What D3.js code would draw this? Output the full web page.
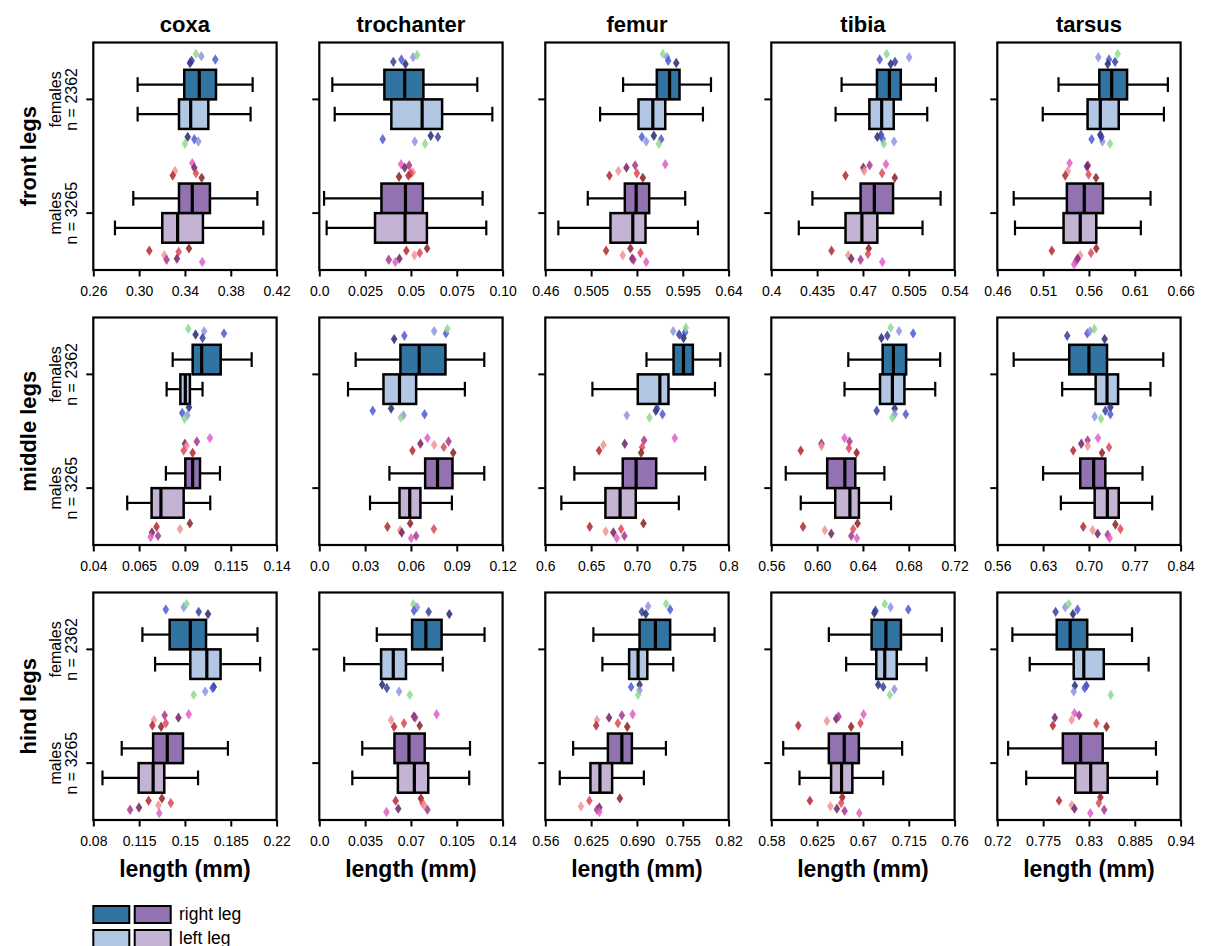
<!DOCTYPE html>
<html>
<head>
<meta charset="utf-8">
<script src="https://cdn.jsdelivr.net/npm/d3@7"></script>
<style>
  body { margin: 0; background: #fff; }
  svg text { font-family: Arial, "Liberation Sans", Helvetica, sans-serif; fill: #000; }
</style>
</head>
<body>
<svg id="chart" width="1205" height="946"></svg>
<script>
// ---- categories ----
const parts = ["coxa", "trochanter", "femur", "tibia", "tarsus"];
const legPairs = ["front legs", "middle legs", "hind legs"];
const sexes = ["females", "males"];
const sexLabels = [["females", "n = 2362"], ["males", "n = 3265"]];
const sides = ["right leg", "left leg"];

// ---- x tick labels per panel (first/last give the axis range) ----
const ticksFront = [
  ["0.26", "0.30", "0.34", "0.38", "0.42"],
  ["0.0", "0.025", "0.05", "0.075", "0.10"],
  ["0.46", "0.505", "0.55", "0.595", "0.64"],
  ["0.4", "0.435", "0.47", "0.505", "0.54"],
  ["0.46", "0.51", "0.56", "0.61", "0.66"]
];
const ticksMiddle = [
  ["0.04", "0.065", "0.09", "0.115", "0.14"],
  ["0.0", "0.03", "0.06", "0.09", "0.12"],
  ["0.6", "0.65", "0.70", "0.75", "0.8"],
  ["0.56", "0.60", "0.64", "0.68", "0.72"],
  ["0.56", "0.63", "0.70", "0.77", "0.84"]
];
const ticksHind = [
  ["0.08", "0.115", "0.15", "0.185", "0.22"],
  ["0.0", "0.035", "0.07", "0.105", "0.14"],
  ["0.56", "0.625", "0.690", "0.755", "0.82"],
  ["0.58", "0.625", "0.67", "0.715", "0.76"],
  ["0.72", "0.775", "0.83", "0.885", "0.94"]
];

// ---- box statistics [whisker low, q1, median, q3, whisker high] (mm) ----
// order per segment: females right, females left, males right, males left
const boxFront = [
  [[0.2987, 0.3394, 0.3525, 0.3671, 0.3991], [0.2987, 0.3348, 0.3450, 0.3604, 0.3973], [0.2949, 0.3348, 0.3464, 0.3618, 0.4032], [0.2789, 0.3202, 0.3336, 0.3557, 0.4084]],
  [[0.0071, 0.0355, 0.0466, 0.0568, 0.0862], [0.0084, 0.0393, 0.0561, 0.0670, 0.0944], [0.0026, 0.0339, 0.0470, 0.0565, 0.0891], [0.0040, 0.0304, 0.0468, 0.0587, 0.0911]],
  [[0.5364, 0.5695, 0.5820, 0.5918, 0.6227], [0.5138, 0.5515, 0.5656, 0.5778, 0.6148], [0.5017, 0.5381, 0.5492, 0.5620, 0.5974], [0.4728, 0.5240, 0.5459, 0.5584, 0.6099]],
  [[0.4537, 0.4807, 0.4902, 0.4989, 0.5257], [0.4491, 0.4749, 0.4843, 0.4935, 0.5191], [0.4314, 0.4682, 0.4787, 0.4930, 0.5293], [0.4210, 0.4567, 0.4692, 0.4810, 0.5155]],
  [[0.5268, 0.5713, 0.5848, 0.6016, 0.6461], [0.5096, 0.5585, 0.5724, 0.5925, 0.6418], [0.4779, 0.5359, 0.5549, 0.5753, 0.6272], [0.4793, 0.5323, 0.5505, 0.5680, 0.6166]]
];
const boxMiddle = [
  [[0.0833, 0.0942, 0.0991, 0.1095, 0.1264], [0.0800, 0.0875, 0.0902, 0.0927, 0.0996], [0.0796, 0.0902, 0.0942, 0.0982, 0.1091], [0.0585, 0.0718, 0.0769, 0.0893, 0.1038]],
  [[0.0238, 0.0531, 0.0654, 0.0826, 0.1080], [0.0188, 0.0420, 0.0525, 0.0634, 0.0953], [0.0459, 0.0693, 0.0774, 0.0872, 0.1080], [0.0332, 0.0525, 0.0592, 0.0662, 0.0868]],
  [[0.7104, 0.7399, 0.7508, 0.7610, 0.7909], [0.6514, 0.7009, 0.7250, 0.7344, 0.7851], [0.6317, 0.6845, 0.6991, 0.7210, 0.7745], [0.6175, 0.6656, 0.6816, 0.6987, 0.7457]],
  [[0.6272, 0.6572, 0.6666, 0.6777, 0.7074], [0.6239, 0.6549, 0.6657, 0.6762, 0.7031], [0.5726, 0.6088, 0.6242, 0.6333, 0.6587], [0.5857, 0.6158, 0.6286, 0.6365, 0.6645]],
  [[0.5850, 0.6699, 0.7000, 0.7276, 0.8135], [0.6591, 0.7102, 0.7276, 0.7445, 0.7940], [0.6300, 0.6867, 0.7072, 0.7250, 0.7818], [0.6571, 0.7087, 0.7281, 0.7455, 0.7966]]
];
const boxHind = [
  [[0.1175, 0.1383, 0.1541, 0.1661, 0.2054], [0.1272, 0.1541, 0.1667, 0.1772, 0.2074], [0.1017, 0.1257, 0.1365, 0.1485, 0.1828], [0.0870, 0.1146, 0.1257, 0.1342, 0.1600]],
  [[0.0439, 0.0709, 0.0814, 0.0934, 0.1262], [0.0190, 0.0472, 0.0565, 0.0662, 0.0943], [0.0328, 0.0574, 0.0685, 0.0805, 0.1151], [0.0252, 0.0600, 0.0726, 0.0832, 0.1145]],
  [[0.6282, 0.6937, 0.7162, 0.7371, 0.8001], [0.6410, 0.6789, 0.6916, 0.7047, 0.7415], [0.5995, 0.6488, 0.6686, 0.6828, 0.7311], [0.5805, 0.6240, 0.6375, 0.6548, 0.6998]],
  [[0.6365, 0.6785, 0.6926, 0.7073, 0.7475], [0.6535, 0.6831, 0.6914, 0.7032, 0.7324], [0.5917, 0.6365, 0.6516, 0.6660, 0.7085], [0.6077, 0.6387, 0.6490, 0.6596, 0.6899]],
  [[0.7381, 0.7913, 0.8075, 0.8279, 0.8817], [0.7589, 0.8117, 0.8238, 0.8478, 0.9016], [0.7330, 0.7987, 0.8200, 0.8465, 0.9104], [0.7547, 0.8136, 0.8321, 0.8525, 0.9118]]
];

// ---- individual specimens shown as points ----
const specimens = ["g", "l", "b", "d", "n", "s", "r", "dr", "br", "pl", "mg", "pk"];
const specimenColors = ["#8fd98f", "#8e93e4", "#4d57d2", "#363d9e", "#25296e",
                        "#f09393", "#dd4856", "#b3262f", "#8c1f24", "#702262", "#a7358e", "#e05dc6"];

// points per segment: [females, males]; each point [length, specimen, jitter (band units from the group centre)]
const stripFront = [
  [[[0.3496, "g", -0.40], [0.3543, "l", -0.38], [0.3665, "b", -0.35], [0.3444, "n", -0.32], [0.3458, "d", -0.34], [0.3424, "n", 0.33], [0.3482, "b", 0.35], [0.3517, "l", 0.37], [0.3400, "g", 0.39]],
   [[0.3464, "pk", -0.44], [0.3482, "pl", -0.40], [0.3496, "r", -0.35], [0.3546, "br", -0.31], [0.3313, "s", -0.37], [0.3293, "dr", -0.33], [0.3089, "dr", 0.33], [0.3220, "s", 0.37], [0.3240, "mg", 0.41], [0.3345, "r", 0.34], [0.3330, "pl", 0.40], [0.3435, "br", 0.31], [0.3551, "pk", 0.43]]],
  [[[0.0404, "d", -0.33], [0.0448, "b", -0.35], [0.0470, "n", -0.31], [0.0512, "l", -0.37], [0.0534, "g", -0.39], [0.0346, "b", 0.35], [0.0521, "l", 0.37], [0.0577, "g", 0.39], [0.0608, "n", 0.32], [0.0647, "d", 0.33]],
   [[0.0446, "pk", -0.43], [0.0466, "pl", -0.40], [0.0490, "mg", -0.42], [0.0510, "s", -0.36], [0.0499, "r", -0.35], [0.0435, "br", -0.32], [0.0486, "dr", -0.33], [0.0475, "dr", 0.33], [0.0588, "br", 0.31], [0.0519, "s", 0.37], [0.0548, "r", 0.35], [0.0379, "mg", 0.41], [0.0437, "pl", 0.40], [0.0415, "pk", 0.43]]],
  [[[0.5755, "g", -0.40], [0.5797, "l", -0.37], [0.5807, "b", -0.34], [0.5886, "n", -0.32], [0.5548, "b", 0.33], [0.5591, "l", 0.37], [0.5666, "n", 0.32], [0.5738, "b", 0.35], [0.5715, "g", 0.39]],
   [[0.5778, "pk", -0.43], [0.5482, "mg", -0.42], [0.5397, "pl", -0.40], [0.5318, "s", -0.37], [0.5499, "r", -0.35], [0.5230, "dr", -0.33], [0.5558, "br", -0.31], [0.5197, "dr", 0.33], [0.5436, "br", 0.31], [0.5535, "r", 0.35], [0.5361, "s", 0.37], [0.5453, "pl", 0.40], [0.5466, "mg", 0.41], [0.5591, "pk", 0.43]]],
  [[[0.4828, "b", -0.35], [0.4881, "g", -0.40], [0.5053, "l", -0.37], [0.4912, "n", -0.31], [0.4945, "d", -0.33], [0.4810, "n", 0.33], [0.4838, "d", 0.31], [0.4851, "b", 0.35], [0.4859, "g", 0.39], [0.4938, "l", 0.37]],
   [[0.4876, "pk", -0.43], [0.4751, "mg", -0.42], [0.4703, "pl", -0.40], [0.4710, "s", -0.37], [0.4846, "r", -0.35], [0.4567, "dr", -0.33], [0.4943, "br", -0.31], [0.4460, "dr", 0.33], [0.4744, "br", 0.31], [0.4738, "r", 0.36], [0.4588, "s", 0.37], [0.4611, "pl", 0.40], [0.4682, "mg", 0.41], [0.4848, "pk", 0.43]]],
  [[[0.5702, "l", -0.37], [0.5914, "g", -0.40], [0.5819, "b", -0.35], [0.5805, "n", -0.31], [0.5885, "d", -0.33], [0.5724, "n", 0.31], [0.5629, "b", 0.35], [0.5746, "l", 0.37], [0.5830, "g", 0.39], [0.5735, "d", 0.33]],
   [[0.5389, "pk", -0.44], [0.5589, "mg", -0.42], [0.5578, "pl", -0.41], [0.5370, "s", -0.37], [0.5341, "dr", -0.33], [0.5596, "r", -0.34], [0.5677, "br", -0.31], [0.5195, "dr", 0.33], [0.5680, "br", 0.31], [0.5622, "r", 0.35], [0.5505, "s", 0.37], [0.5476, "pl", 0.40], [0.5461, "mg", 0.42], [0.5439, "pk", 0.45]]]
];
const stripMiddle = [
  [[[0.0918, "g", -0.40], [0.0958, "n", -0.35], [0.1005, "l", -0.38], [0.0996, "d", -0.32], [0.1113, "b", -0.36], [0.0922, "n", 0.29], [0.0885, "b", 0.34], [0.0913, "l", 0.36], [0.0898, "g", 0.39]],
   [[0.1036, "pk", -0.44], [0.0965, "mg", -0.41], [0.0900, "pl", -0.39], [0.0909, "s", -0.37], [0.0893, "r", -0.33], [0.0942, "dr", -0.31], [0.0745, "dr", 0.34], [0.0927, "br", 0.31], [0.0873, "s", 0.36], [0.0720, "pl", 0.39], [0.0753, "mg", 0.42], [0.0713, "pk", 0.43]]],
  [[[0.0490, "n", -0.31], [0.0557, "b", -0.34], [0.0752, "l", -0.38], [0.0829, "b", -0.36], [0.0839, "g", -0.40], [0.0350, "b", 0.32], [0.0470, "n", 0.30], [0.0551, "l", 0.36], [0.0533, "g", 0.38], [0.0689, "b", 0.35]],
   [[0.0708, "pk", -0.44], [0.0662, "pl", -0.39], [0.0752, "s", -0.38], [0.0846, "mg", -0.41], [0.0815, "r", -0.36], [0.0610, "dr", -0.33], [0.0877, "br", -0.31], [0.0446, "dr", 0.34], [0.0595, "br", 0.31], [0.0750, "r", 0.36], [0.0529, "s", 0.37], [0.0540, "pl", 0.39], [0.0634, "mg", 0.42], [0.0601, "pk", 0.44]]],
  [[[0.7395, "l", -0.38], [0.7461, "d", -0.35], [0.7526, "b", -0.37], [0.7508, "n", -0.32], [0.7534, "g", -0.41], [0.6889, "l", 0.36], [0.7206, "n", 0.32], [0.7220, "d", 0.30], [0.7279, "b", 0.35], [0.7137, "g", 0.38]],
   [[0.7413, "pk", -0.44], [0.7078, "mg", -0.42], [0.6867, "pl", -0.39], [0.6634, "s", -0.38], [0.7056, "r", -0.36], [0.6587, "dr", -0.33], [0.7046, "br", -0.31], [0.6485, "dr", 0.34], [0.7071, "br", 0.31], [0.6827, "r", 0.36], [0.6659, "s", 0.38], [0.6743, "pl", 0.39], [0.6863, "mg", 0.42], [0.6780, "pk", 0.44]]],
  [[[0.6642, "g", -0.41], [0.6715, "l", -0.38], [0.6838, "b", -0.36], [0.6561, "n", -0.32], [0.6613, "d", -0.34], [0.6520, "d", 0.32], [0.6677, "n", 0.30], [0.6677, "l", 0.35], [0.6774, "b", 0.35], [0.6657, "g", 0.38]],
   [[0.6239, "pk", -0.44], [0.6283, "mg", -0.41], [0.6038, "pl", -0.39], [0.6038, "s", -0.37], [0.5857, "dr", -0.33], [0.6277, "r", -0.35], [0.6345, "br", -0.31], [0.5877, "dr", 0.34], [0.6353, "br", 0.31], [0.6315, "r", 0.36], [0.6067, "s", 0.37], [0.6123, "pl", 0.40], [0.6298, "mg", 0.42], [0.6347, "pk", 0.44]]],
  [[[0.6668, "d", -0.34], [0.6975, "b", -0.36], [0.7015, "l", -0.38], [0.7082, "g", -0.40], [0.7240, "n", -0.31], [0.7327, "n", 0.29], [0.7250, "d", 0.32], [0.7327, "b", 0.35], [0.7087, "l", 0.37], [0.7184, "g", 0.39]],
   [[0.7138, "pk", -0.44], [0.6980, "mg", -0.42], [0.6883, "pl", -0.39], [0.6980, "s", -0.37], [0.7307, "r", -0.36], [0.6760, "dr", -0.33], [0.7200, "br", -0.31], [0.6913, "dr", 0.34], [0.7404, "br", 0.32], [0.7481, "r", 0.36], [0.7056, "s", 0.37], [0.7133, "pl", 0.40], [0.7286, "mg", 0.41], [0.7317, "pk", 0.44]]]
];
const stripHind = [
  [[[0.1354, "b", -0.35], [0.1491, "l", -0.37], [0.1512, "g", -0.40], [0.1605, "d", -0.33], [0.1676, "n", -0.31], [0.1720, "n", 0.33], [0.1711, "b", 0.34], [0.1655, "l", 0.37], [0.1567, "g", 0.40]],
   [[0.1529, "pk", -0.43], [0.1450, "pl", -0.40], [0.1345, "mg", -0.42], [0.1263, "s", -0.38], [0.1354, "r", -0.35], [0.1251, "dr", -0.33], [0.1318, "br", -0.32], [0.1324, "br", 0.31], [0.1222, "dr", 0.33], [0.1392, "r", 0.35], [0.1298, "s", 0.37], [0.1149, "pl", 0.39], [0.1081, "mg", 0.41], [0.1304, "pk", 0.44]]],
  [[[0.0718, "g", -0.40], [0.0747, "l", -0.37], [0.0723, "b", -0.34], [0.0835, "d", -0.33], [0.0993, "n", -0.31], [0.0480, "n", 0.31], [0.0516, "d", 0.34], [0.0609, "l", 0.37], [0.0691, "g", 0.40]],
   [[0.0896, "pk", -0.43], [0.0723, "pl", -0.41], [0.0732, "mg", -0.40], [0.0548, "s", -0.38], [0.0647, "r", -0.35], [0.0571, "dr", -0.32], [0.0767, "br", -0.33], [0.0583, "dr", 0.33], [0.0776, "br", 0.31], [0.0788, "r", 0.35], [0.0800, "s", 0.37], [0.0603, "pl", 0.40], [0.0826, "mg", 0.41], [0.0513, "pk", 0.43]]],
  [[[0.7058, "l", -0.38], [0.7314, "g", -0.40], [0.7371, "b", -0.35], [0.6970, "d", -0.33], [0.7025, "n", -0.31], [0.6817, "b", 0.33], [0.6937, "n", 0.31], [0.6937, "l", 0.36], [0.6916, "g", 0.40]],
   [[0.6504, "pl", -0.40], [0.6686, "mg", -0.42], [0.6839, "pk", -0.43], [0.6630, "r", -0.35], [0.6762, "br", -0.32], [0.6333, "s", -0.38], [0.6322, "dr", -0.33], [0.6657, "br", 0.31], [0.6367, "pl", 0.39], [0.6225, "r", 0.33], [0.6105, "s", 0.38], [0.6333, "mg", 0.41], [0.6367, "pk", 0.43]]],
  [[[0.6812, "n", -0.32], [0.6914, "g", -0.40], [0.6971, "l", -0.37], [0.7145, "b", -0.35], [0.6823, "d", -0.34], [0.6850, "n", 0.31], [0.6899, "d", 0.33], [0.7009, "l", 0.35], [0.6964, "g", 0.40]],
   [[0.6706, "pk", -0.43], [0.6437, "pl", -0.39], [0.6460, "mg", -0.41], [0.6346, "s", -0.37], [0.6676, "r", -0.35], [0.6065, "dr", -0.33], [0.6584, "br", -0.32], [0.6179, "dr", 0.33], [0.6497, "br", 0.30], [0.6486, "r", 0.35], [0.6380, "s", 0.38], [0.6444, "pl", 0.40], [0.6520, "mg", 0.42], [0.6664, "pk", 0.44]]],
  [[[0.7900, "d", -0.33], [0.8015, "l", -0.37], [0.8057, "g", -0.40], [0.8163, "b", -0.35], [0.8108, "n", -0.31], [0.8131, "n", 0.32], [0.8270, "d", 0.32], [0.8117, "l", 0.37], [0.8247, "b", 0.34], [0.8562, "g", 0.40]],
   [[0.8126, "pk", -0.44], [0.7890, "pl", -0.40], [0.8182, "mg", -0.42], [0.8092, "s", -0.38], [0.7867, "dr", -0.33], [0.8390, "r", -0.35], [0.8511, "br", -0.32], [0.7941, "dr", 0.33], [0.8437, "br", 0.30], [0.8418, "r", 0.35], [0.8094, "s", 0.37], [0.8126, "pl", 0.40], [0.8483, "mg", 0.41], [0.8316, "pk", 0.44]]]
];

// ---- styling ----
const boxFill = [["#3274a1", "#b1c7e3"], ["#9372b2", "#c5b3d4"]]; // [sex][side]

const tickRows = [ticksFront, ticksMiddle, ticksHind];
const boxRows = [boxFront, boxMiddle, boxHind];
const stripRows = [stripFront, stripMiddle, stripHind];

const svg = d3.select("#chart");
const PW = 183.3, PH = 227.5;
const colX = c => 93.3 + c * 226;
const rowY = r => 42.5 + r * 275;
const colour = d3.scaleOrdinal().domain(specimens).range(specimenColors);
const diamond = "M0,-5.2L3.3,0L0,5.2L-3.3,0Z";

legPairs.forEach((pair, r) => {
  parts.forEach((part, c) => {
    const x0 = colX(c), y0 = rowY(r);
    const labels = tickRows[r][c];
    const vals = labels.map(Number);
    const x = d3.scaleLinear().domain([vals[0], vals[vals.length - 1]]).range([x0, x0 + PW]);
    const y = d3.scaleBand().domain(sexes).range([y0, y0 + PH]);
    const bw = y.bandwidth();
    const bh = bw * 0.26;
    const g = svg.append("g").attr("class", "panel");

    // boxes
    sexes.forEach((sex, si) => {
      const cy = y(sex) + bw / 2;
      sides.forEach((side, k) => {
        const [lo, q1, med, q3, hi] = boxRows[r][c][si * 2 + k];
        const top = k === 0 ? cy - bh : cy;
        const mid = top + bh / 2;
        const bg = g.append("g");
        bg.append("line").attr("x1", x(lo)).attr("x2", x(q1)).attr("y1", mid).attr("y2", mid)
          .attr("stroke", "#000").attr("stroke-width", 2.2);
        bg.append("line").attr("x1", x(q3)).attr("x2", x(hi)).attr("y1", mid).attr("y2", mid)
          .attr("stroke", "#000").attr("stroke-width", 2.2);
        [lo, hi].forEach(v => bg.append("line")
          .attr("x1", x(v)).attr("x2", x(v)).attr("y1", mid - bh / 4).attr("y2", mid + bh / 4)
          .attr("stroke", "#000").attr("stroke-width", 2.2));
        bg.append("rect").attr("x", x(q1)).attr("y", top).attr("width", x(q3) - x(q1)).attr("height", bh)
          .attr("fill", boxFill[si][k]).attr("stroke", "#000").attr("stroke-width", 2.5);
        bg.append("line").attr("x1", x(med)).attr("x2", x(med)).attr("y1", top).attr("y2", top + bh)
          .attr("stroke", "#000").attr("stroke-width", 3.2);
      });

      // individual specimens
      g.append("g").selectAll("path").data(stripRows[r][c][si]).join("path")
        .attr("d", diamond)
        .attr("transform", d => `translate(${x(d[0])},${cy + d[2] * bw})`)
        .attr("fill", d => colour(d[1]))
        .attr("fill-opacity", 0.85);
    });

    // frame
    g.append("rect").attr("x", x0).attr("y", y0).attr("width", PW).attr("height", PH)
      .attr("fill", "none").attr("stroke", "#000").attr("stroke-width", 2.2);

    // x axis
    const xa = g.append("g").attr("transform", `translate(0,${y0 + PH})`)
      .call(d3.axisBottom(x).tickValues(vals).tickFormat((d, i) => labels[i]).tickSize(6.5).tickPadding(10));
    xa.select(".domain").remove();
    xa.selectAll(".tick line").attr("stroke", "#000").attr("stroke-width", 2);
    xa.selectAll(".tick text").attr("font-size", 14).attr("font-family", "Arial, 'Liberation Sans', sans-serif").attr("fill", "#000");

    // y axis ticks
    const ya = g.append("g").attr("transform", `translate(${x0},0)`)
      .call(d3.axisLeft(y).tickSize(7).tickFormat(""));
    ya.select(".domain").remove();
    ya.selectAll(".tick line").attr("stroke", "#000").attr("stroke-width", 2);

    // group labels on the first column
    if (c === 0) {
      sexes.forEach((sex, si) => {
        const cy = y(sex) + bw / 2;
        const t = g.append("text")
          .attr("transform", `translate(${x0 - 16},${cy}) rotate(-90)`)
          .attr("text-anchor", "middle").attr("font-size", 16);
        t.append("tspan").attr("x", 0).attr("y", -16).text(sexLabels[si][0]);
        t.append("tspan").attr("x", 0).attr("y", 0).text(sexLabels[si][1]);
      });
      svg.append("text")
        .attr("transform", `translate(${36},${y0 + PH / 2}) rotate(-90)`)
        .attr("text-anchor", "middle").attr("font-size", 22).attr("font-weight", "bold")
        .text(pair);
    }

    // column titles
    if (r === 0) {
      svg.append("text").attr("x", x0 + PW / 2).attr("y", 32)
        .attr("text-anchor", "middle").attr("font-size", 22).attr("font-weight", "bold").text(part);
    }
    // x axis titles
    if (r === legPairs.length - 1) {
      svg.append("text").attr("x", x0 + PW / 2).attr("y", 877)
        .attr("text-anchor", "middle").attr("font-size", 23).attr("font-weight", "bold").text("length (mm)");
    }
  });
});

// legend
const legend = svg.append("g");
sides.forEach((side, k) => {
  const ly = 906 + k * 24;
  sexes.forEach((sex, si) => {
    legend.append("rect").attr("x", 93.3 + si * 41.4).attr("y", ly).attr("width", 36).attr("height", 17)
      .attr("fill", boxFill[si][k]).attr("stroke", "#000").attr("stroke-width", 2);
  });
  legend.append("text").attr("x", 179).attr("y", ly + 14).attr("font-size", 17.5).text(side);
});
</script>
</body>
</html>
